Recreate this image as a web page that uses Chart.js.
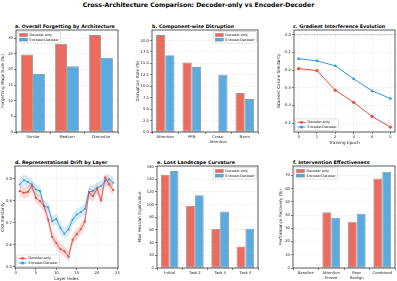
<!DOCTYPE html>
<html>
<head>
<meta charset="utf-8">
<script src="https://cdn.jsdelivr.net/npm/chart.js@4.4.0/dist/chart.umd.min.js"></script>
<style>
  html, body { margin: 0; padding: 0; background: #fff; }
  #fig { position: relative; width: 397px; height: 281px; overflow: hidden; font-family: "DejaVu Sans", sans-serif; }
  .ttl { position: absolute; white-space: nowrap; font-weight: bold; color: #000; line-height: 1; }
  canvas { position: absolute; }
</style>
</head>
<body>
<div id="fig">
  <div class="ttl" style="left:0;width:397px;text-align:center;top:2px;font-size:6.2px">Cross-Architecture Comparison: Decoder-only vs Encoder-Decoder</div>
  <div class="ttl" style="left:15px;top:24.5px;font-size:4.8px">a. Overall Forgetting by Architecture</div>
  <div class="ttl" style="left:152px;top:24.5px;font-size:4.8px">b. Component-wise Disruption</div>
  <div class="ttl" style="left:293px;top:24.5px;font-size:4.8px">c. Gradient Interference Evolution</div>
  <div class="ttl" style="left:15px;top:160.5px;font-size:4.8px">d. Representational Drift by Layer</div>
  <div class="ttl" style="left:157px;top:160.5px;font-size:4.8px">e. Loss Landscape Curvature</div>
  <div class="ttl" style="left:293px;top:160.5px;font-size:4.8px">f. Intervention Effectiveness</div>
  <canvas id="cA"></canvas>
  <canvas id="cB"></canvas>
  <canvas id="cC"></canvas>
  <canvas id="cD"></canvas>
  <canvas id="cE"></canvas>
  <canvas id="cF"></canvas>
</div>
<script>
// ---- data ----
const simLevels = ['Similar', 'Medium', 'Dissimilar'];
const forgetDec = [24.8, 28.2, 31.0];
const forgetEnc = [18.5, 21.0, 23.7];

const components = ['Attention', 'FFN', ['Cross-', 'Attention'], 'Norm'];
const disruptDec = [21.2, 15.2, 0, 8.5];
const disruptEnc = [16.8, 14.2, 12.5, 7.2];

const epochs = [0, 1, 2, 3, 4, 5];
const gradDec = [-0.192, -0.203, -0.314, -0.383, -0.463, -0.523];
const gradEnc = [-0.136, -0.148, -0.176, -0.250, -0.318, -0.361];

const layers = [1, 2, 3, 4, 5, 6, 7, 8, 9, 10, 11, 12, 13, 14, 15, 16, 17, 18, 19, 20, 21, 22, 23, 24];
const ckaDec = [0.844, 0.836, 0.840, 0.866, 0.813, 0.798, 0.775, 0.714, 0.635, 0.608, 0.580, 0.570,
                0.545, 0.622, 0.648, 0.670, 0.705, 0.836, 0.821, 0.854, 0.802, 0.905, 0.874, 0.848];
const ckaEnc = [0.874, 0.894, 0.886, 0.874, 0.851, 0.844, 0.775, 0.770, 0.707, 0.717, 0.676, 0.650,
                0.670, 0.714, 0.737, 0.748, 0.763, 0.840, 0.844, 0.859, 0.867, 0.889, 0.897, 0.882];
const ckaSpread = 0.025; // half width of the shaded band

const tasks = ['Initial', 'Task 2', 'Task 3', 'Task 4'];
const hessDec = [147, 98, 62, 34];
const hessEnc = [153, 115, 89, 62];

const interventions = ['Baseline', ['Attention', 'Freeze'], ['Repr', 'Realign'], 'Combined'];
const recovDec = [0, 42, 35, 67.5];
const recovEnc = [0, 38, 41, 72.7];

// ---- styling ----
const RED = '#e74c3c', BLUE = '#3498db';
const RED_BAR = 'rgba(231,76,60,0.82)', BLUE_BAR = 'rgba(52,152,219,0.82)';
const EDGE = 'rgba(70,70,70,0.55)';
const GRID = 'rgba(0,0,0,0.13)';
const TICK = 3.8, LABEL = 4.2, LEG = 3.4;

Chart.defaults.font.family = '"DejaVu Sans", sans-serif';
Chart.defaults.font.size = TICK;
Chart.defaults.color = '#222';

// spines on all four sides, plus the dashed zero line in panel c
const frame = {
  id: 'frame',
  beforeDatasetsDraw(chart, args, o) {
    if (o.zeroLine === undefined) return;
    const a = chart.chartArea, ctx = chart.ctx;
    const y = chart.scales.y.getPixelForValue(o.zeroLine);
    ctx.save();
    ctx.strokeStyle = 'rgba(60,60,60,0.55)';
    ctx.lineWidth = 0.7;
    ctx.setLineDash([1.5, 1]);
    ctx.beginPath(); ctx.moveTo(a.left, y); ctx.lineTo(a.right, y); ctx.stroke();
    ctx.restore();
  },
  afterDraw(chart) {
    const a = chart.chartArea, ctx = chart.ctx;
    ctx.save();
    ctx.strokeStyle = '#333';
    ctx.lineWidth = 0.8;
    ctx.strokeRect(a.left, a.top, a.right - a.left, a.bottom - a.top);
    ctx.restore();
  }
};

// legend drawn inside the axes, like matplotlib
const inLegend = {
  id: 'inLegend',
  afterDraw(chart, args, o) {
    if (!o.where) return;
    const ctx = chart.ctx, a = chart.chartArea;
    const items = chart.data.datasets.filter(d => d.label && !d.label.startsWith('_'));
    ctx.save();
    ctx.font = LEG + 'px "DejaVu Sans"';
    const tw = Math.max(...items.map(d => ctx.measureText(d.label).width));
    const rowH = 4.6, boxW = 2 + 8 + 2 + tw + 2, boxH = items.length * rowH + 2.4;
    const x = o.where.includes('left') ? a.left + 1.5 : a.right - 1.5 - boxW;
    const y = o.where.includes('upper') ? a.top + 1.5 : a.bottom - 1.5 - boxH;
    ctx.fillStyle = 'rgba(255,255,255,0.85)';
    ctx.strokeStyle = '#cfcfcf';
    ctx.lineWidth = 0.6;
    ctx.beginPath(); ctx.roundRect(x, y, boxW, boxH, 1); ctx.fill(); ctx.stroke();
    items.forEach((d, i) => {
      const cy = y + 1.2 + rowH * (i + 0.5);
      if (o.kind === 'bar') {
        ctx.fillStyle = d.backgroundColor;
        ctx.fillRect(x + 2, cy - 1.5, 8, 3);
        ctx.strokeStyle = EDGE; ctx.lineWidth = 0.5;
        ctx.strokeRect(x + 2, cy - 1.5, 8, 3);
      } else {
        ctx.strokeStyle = d.borderColor; ctx.lineWidth = 0.9;
        ctx.beginPath(); ctx.moveTo(x + 2, cy); ctx.lineTo(x + 10, cy); ctx.stroke();
        ctx.fillStyle = d.borderColor;
        if (d.pointStyle === 'rect') ctx.fillRect(x + 4.7, cy - 1.3, 2.6, 2.6);
        else { ctx.beginPath(); ctx.arc(x + 6, cy, 1.4, 0, Math.PI * 2); ctx.fill(); }
      }
      ctx.fillStyle = '#111';
      ctx.textBaseline = 'middle';
      ctx.fillText(d.label, x + 12, cy + 0.2);
    });
    ctx.restore();
  }
};

function yScale(min, max, step, title, fmt) {
  return {
    min: min, max: max,
    ticks: { stepSize: step, includeBounds: false, padding: 1, font: { size: TICK },
             callback: v => fmt(v) },
    grid: { color: GRID, lineWidth: 0.5, tickLength: 2, tickColor: '#333', tickWidth: 0.6, tickBorderDash: [] },
    border: { display: false, dash: [2, 1.2] },
    title: { display: true, text: title, font: { size: LABEL }, padding: 0 }
  };
}

function catX(labels) {
  return {
    type: 'category', labels: labels,
    ticks: { padding: 1, font: { size: TICK }, maxRotation: 0, autoSkip: false },
    grid: { drawOnChartArea: false, tickLength: 2, tickColor: '#333', tickWidth: 0.6 },
    border: { display: false }
  };
}

function linX(min, max, step, title) {
  return {
    type: 'linear', min: min, max: max,
    ticks: { stepSize: step, includeBounds: false, padding: 1, font: { size: TICK } },
    grid: { color: GRID, lineWidth: 0.5, tickLength: 2, tickColor: '#333', tickWidth: 0.6, tickBorderDash: [] },
    border: { display: false, dash: [2, 1.2] },
    title: { display: true, text: title, font: { size: LABEL }, padding: { top: 0.5, bottom: 0 } }
  };
}

// box = axes rectangle in figure pixels, yw = room for y ticks + title, xh = room below axes
function panel(id, box, yw, xh, cfg) {
  const padTop = 6, padRight = 4;
  const cv = document.getElementById(id);
  const w = box.r - box.l + yw + padRight, h = box.b - box.t + padTop + xh;
  cv.style.left = (box.l - yw) + 'px';
  cv.style.top = (box.t - padTop) + 'px';
  cv.style.width = w + 'px'; cv.style.height = h + 'px';
  cv.width = w; cv.height = h;
  const o = cfg.options;
  o.responsive = false;
  o.animation = false;
  o.devicePixelRatio = 1;
  o.layout = { padding: { top: padTop, right: padRight, left: 0, bottom: 0 } };
  o.scales.x.afterFit = s => { s.height = xh; };
  o.scales.y.afterFit = s => { s.width = yw; };
  o.plugins = Object.assign({ legend: { display: false }, tooltip: { enabled: false } }, o.plugins);
  cfg.plugins = [frame, inLegend];
  return new Chart(cv, cfg);
}

function barSet(label, data, color) {
  return { label: label, data: data, backgroundColor: color, borderColor: EDGE, borderWidth: 0.9,
           borderSkipped: false, categoryPercentage: 0.7, barPercentage: 1.0 };
}

const f1 = v => v.toFixed(1);
const f0 = v => v.toFixed(0);

// a. Overall forgetting
panel('cA', { l: 16, t: 30, r: 118, b: 132 }, 16, 12, {
  type: 'bar',
  data: { labels: simLevels, datasets: [barSet('Decoder-only', forgetDec, RED_BAR), barSet('Encoder-Decoder', forgetEnc, BLUE_BAR)] },
  options: {
    scales: { x: catX(simLevels), y: yScale(0, 32.6, 5, 'Forgetting Magnitude (%)', f0) },
    plugins: { inLegend: { where: 'upper left', kind: 'bar' } }
  }
});

// b. Component-wise disruption
panel('cB', { l: 152, t: 30, r: 258, b: 132 }, 17, 14, {
  type: 'bar',
  data: { labels: components, datasets: [barSet('Decoder-only', disruptDec, RED_BAR), barSet('Encoder-Decoder', disruptEnc, BLUE_BAR)] },
  options: {
    scales: { x: catX(components), y: yScale(0, 22.3, 2.5, 'Disruption Rate (%)', f1) },
    plugins: { inLegend: { where: 'upper right', kind: 'bar' } }
  }
});

// c. Gradient interference
panel('cC', { l: 294, t: 30, r: 395, b: 132 }, 18, 13, {
  type: 'line',
  data: {
    datasets: [
      { label: 'Decoder-only', data: epochs.map((e, i) => ({ x: e, y: gradDec[i] })), borderColor: RED, backgroundColor: RED,
        borderWidth: 1, pointStyle: 'circle', pointRadius: 1.6, pointBorderWidth: 0 },
      { label: 'Encoder-Decoder', data: epochs.map((e, i) => ({ x: e, y: gradEnc[i] })), borderColor: BLUE, backgroundColor: BLUE,
        borderWidth: 1, pointStyle: 'rect', pointRadius: 1.7, pointBorderWidth: 0 }
    ]
  },
  options: {
    scales: { x: linX(-0.25, 5.25, 1, 'Training Epoch'), y: yScale(-0.551, 0.027, 0.1, 'Gradient Cosine Similarity', f1) },
    plugins: { inLegend: { where: 'lower left', kind: 'line' }, frame: { zeroLine: 0 } }
  }
});

// d. Representational drift
const xy = (arr, d) => layers.map((l, i) => ({ x: l, y: arr[i] + d }));
panel('cD', { l: 15, t: 166, r: 118, b: 268 }, 15, 13, {
  type: 'line',
  data: {
    datasets: [
      { label: '_decHi', data: xy(ckaDec, ckaSpread), fill: '+1', backgroundColor: 'rgba(231,76,60,0.2)', borderWidth: 0, pointRadius: 0 },
      { label: '_decLo', data: xy(ckaDec, -ckaSpread), fill: false, borderWidth: 0, pointRadius: 0 },
      { label: '_encHi', data: xy(ckaEnc, ckaSpread), fill: '+1', backgroundColor: 'rgba(52,152,219,0.2)', borderWidth: 0, pointRadius: 0 },
      { label: '_encLo', data: xy(ckaEnc, -ckaSpread), fill: false, borderWidth: 0, pointRadius: 0 },
      { label: 'Decoder-only', data: xy(ckaDec, 0), borderColor: RED, backgroundColor: RED,
        borderWidth: 0.9, pointStyle: 'circle', pointRadius: 1.1, pointBorderWidth: 0 },
      { label: 'Encoder-Decoder', data: xy(ckaEnc, 0), borderColor: BLUE, backgroundColor: BLUE,
        borderWidth: 0.9, pointStyle: 'rect', pointRadius: 1.2, pointBorderWidth: 0 }
    ]
  },
  options: {
    scales: { x: linX(-0.15, 25.15, 5, 'Layer Index'), y: yScale(0.494, 0.958, 0.1, 'CKA Similarity', f1) },
    plugins: { inLegend: { where: 'lower left', kind: 'line' } }
  }
});

// e. Loss landscape curvature
panel('cE', { l: 157, t: 166, r: 258, b: 268 }, 20, 10, {
  type: 'bar',
  data: { labels: tasks, datasets: [barSet('Decoder-only', hessDec, RED_BAR), barSet('Encoder-Decoder', hessEnc, BLUE_BAR)] },
  options: {
    scales: { x: catX(tasks), y: yScale(0, 161, 20, 'Max Hessian Eigenvalue', f0) },
    plugins: { inLegend: { where: 'upper right', kind: 'bar' } }
  }
});

// f. Intervention effectiveness
panel('cF', { l: 293, t: 166, r: 395, b: 268 }, 15, 13, {
  type: 'bar',
  data: { labels: interventions, datasets: [barSet('Decoder-only', recovDec, RED_BAR), barSet('Encoder-Decoder', recovEnc, BLUE_BAR)] },
  options: {
    scales: { x: catX(interventions), y: yScale(0, 77, 10, 'Performance Recovery (%)', f0) },
    plugins: { inLegend: { where: 'upper left', kind: 'bar' } }
  }
});
</script>
</body>
</html>
